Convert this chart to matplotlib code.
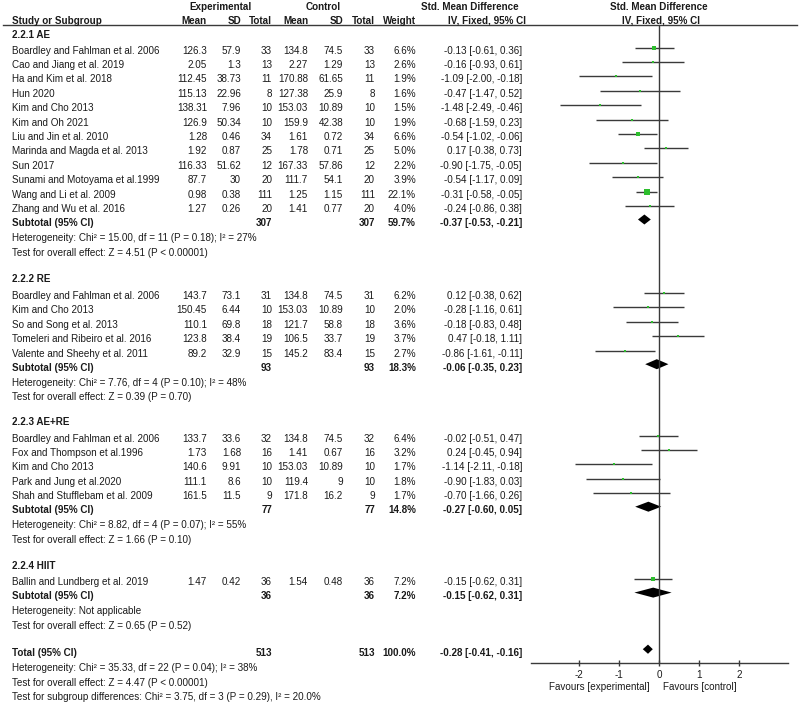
import matplotlib
matplotlib.use("Agg")
import matplotlib.pyplot as plt
from matplotlib.lines import Line2D

plt.rcParams['font.family'] = ['Liberation Sans', 'DejaVu Sans']

FS = 7.1
TXT = '#1a1a1a'
LINE = '#3a3a3a'
GREEN = '#2dbe2d'

# ---------------- data ----------------
group_names = ["2.2.1 AE", "2.2.2 RE", "2.2.3 AE+RE", "2.2.4 HIIT"]

ae_study = ["Boardley and Fahlman et al. 2006", "Cao and Jiang et al. 2019", "Ha and Kim et al. 2018",
            "Hun 2020", "Kim and Cho 2013", "Kim and Oh 2021", "Liu and Jin et al. 2010",
            "Marinda and Magda et al. 2013", "Sun 2017", "Sunami and Motoyama et al.1999",
            "Wang and Li et al. 2009", "Zhang and Wu et al. 2016"]
ae_exp_mean = ["126.3", "2.05", "112.45", "115.13", "138.31", "126.9", "1.28", "1.92", "116.33", "87.7", "0.98", "1.27"]
ae_exp_sd = ["57.9", "1.3", "38.73", "22.96", "7.96", "50.34", "0.46", "0.87", "51.62", "30", "0.38", "0.26"]
ae_exp_n = [33, 13, 11, 8, 10, 10, 34, 25, 12, 20, 111, 20]
ae_ctl_mean = ["134.8", "2.27", "170.88", "127.38", "153.03", "159.9", "1.61", "1.78", "167.33", "111.7", "1.25", "1.41"]
ae_ctl_sd = ["74.5", "1.29", "61.65", "25.9", "10.89", "42.38", "0.72", "0.71", "57.86", "54.1", "1.15", "0.77"]
ae_ctl_n = [33, 13, 11, 8, 10, 10, 34, 25, 12, 20, 111, 20]
ae_weight = [6.6, 2.6, 1.9, 1.6, 1.5, 1.9, 6.6, 5.0, 2.2, 3.9, 22.1, 4.0]
ae_smd = [-0.13, -0.16, -1.09, -0.47, -1.48, -0.68, -0.54, 0.17, -0.90, -0.54, -0.31, -0.24]
ae_lo = [-0.61, -0.93, -2.00, -1.47, -2.49, -1.59, -1.02, -0.38, -1.75, -1.17, -0.58, -0.86]
ae_hi = [0.36, 0.61, -0.18, 0.52, -0.46, 0.23, -0.06, 0.73, -0.05, 0.09, -0.05, 0.38]

re_study = ["Boardley and Fahlman et al. 2006", "Kim and Cho 2013", "So and Song et al. 2013",
            "Tomeleri and Ribeiro et al. 2016", "Valente and Sheehy et al. 2011"]
re_exp_mean = ["143.7", "150.45", "110.1", "123.8", "89.2"]
re_exp_sd = ["73.1", "6.44", "69.8", "38.4", "32.9"]
re_exp_n = [31, 10, 18, 19, 15]
re_ctl_mean = ["134.8", "153.03", "121.7", "106.5", "145.2"]
re_ctl_sd = ["74.5", "10.89", "58.8", "33.7", "83.4"]
re_ctl_n = [31, 10, 18, 19, 15]
re_weight = [6.2, 2.0, 3.6, 3.7, 2.7]
re_smd = [0.12, -0.28, -0.18, 0.47, -0.86]
re_lo = [-0.38, -1.16, -0.83, -0.18, -1.61]
re_hi = [0.62, 0.61, 0.48, 1.11, -0.11]

ar_study = ["Boardley and Fahlman et al. 2006", "Fox and Thompson et al.1996", "Kim and Cho 2013",
            "Park and Jung et al.2020", "Shah and Stufflebam et al. 2009"]
ar_exp_mean = ["133.7", "1.73", "140.6", "111.1", "161.5"]
ar_exp_sd = ["33.6", "1.68", "9.91", "8.6", "11.5"]
ar_exp_n = [32, 16, 10, 10, 9]
ar_ctl_mean = ["134.8", "1.41", "153.03", "119.4", "171.8"]
ar_ctl_sd = ["74.5", "0.67", "10.89", "9", "16.2"]
ar_ctl_n = [32, 16, 10, 10, 9]
ar_weight = [6.4, 3.2, 1.7, 1.8, 1.7]
ar_smd = [-0.02, 0.24, -1.14, -0.90, -0.70]
ar_lo = [-0.51, -0.45, -2.11, -1.83, -1.66]
ar_hi = [0.47, 0.94, -0.18, 0.03, 0.26]

hi_study = ["Ballin and Lundberg et al. 2019"]
hi_exp_mean = ["1.47"]
hi_exp_sd = ["0.42"]
hi_exp_n = [36]
hi_ctl_mean = ["1.54"]
hi_ctl_sd = ["0.48"]
hi_ctl_n = [36]
hi_weight = [7.2]
hi_smd = [-0.15]
hi_lo = [-0.62]
hi_hi = [0.31]

sub_n_exp = [307, 93, 77, 36]
sub_n_ctl = [307, 93, 77, 36]
sub_weight = [59.7, 18.3, 14.8, 7.2]
sub_smd = [-0.37, -0.06, -0.27, -0.15]
sub_lo = [-0.53, -0.35, -0.60, -0.62]
sub_hi = [-0.21, 0.23, 0.05, 0.31]
sub_het = ["Heterogeneity: Chi² = 15.00, df = 11 (P = 0.18); I² = 27%",
           "Heterogeneity: Chi² = 7.76, df = 4 (P = 0.10); I² = 48%",
           "Heterogeneity: Chi² = 8.82, df = 4 (P = 0.07); I² = 55%",
           "Heterogeneity: Not applicable"]
sub_test = ["Test for overall effect: Z = 4.51 (P < 0.00001)",
            "Test for overall effect: Z = 0.39 (P = 0.70)",
            "Test for overall effect: Z = 1.66 (P = 0.10)",
            "Test for overall effect: Z = 0.65 (P = 0.52)"]

total_n_exp = 513
total_n_ctl = 513
total_weight = 100.0
total_smd = -0.28
total_lo = -0.41
total_hi = -0.16
total_notes = ["Heterogeneity: Chi² = 35.33, df = 22 (P = 0.04); I² = 38%",
               "Test for overall effect: Z = 4.47 (P < 0.00001)",
               "Test for subgroup differences: Chi² = 3.75, df = 3 (P = 0.29), I² = 20.0%"]

x_ticks = [-2, -1, 0, 1, 2]
x_ticklabels = ["-2", "-1", "0", "1", "2"]

groups = [
    (ae_study, ae_exp_mean, ae_exp_sd, ae_exp_n, ae_ctl_mean, ae_ctl_sd, ae_ctl_n, ae_weight, ae_smd, ae_lo, ae_hi),
    (re_study, re_exp_mean, re_exp_sd, re_exp_n, re_ctl_mean, re_ctl_sd, re_ctl_n, re_weight, re_smd, re_lo, re_hi),
    (ar_study, ar_exp_mean, ar_exp_sd, ar_exp_n, ar_ctl_mean, ar_ctl_sd, ar_ctl_n, ar_weight, ar_smd, ar_lo, ar_hi),
    (hi_study, hi_exp_mean, hi_exp_sd, hi_exp_n, hi_ctl_mean, hi_ctl_sd, hi_ctl_n, hi_weight, hi_smd, hi_lo, hi_hi),
]

# ---------------- layout (pixel rows) ----------------
W, H = 800, 703
STEP = 14.4
group_header_y = [35.5, 279.0, 422.0, 566.0]
group_first_y = [50.5, 296.0, 438.5, 582.0]
total_y = 653.0
total_note_y = [668.0, 682.5, 697.0]
MARK_OFF = -3.0

# column right edges
X_STUDY = 12
X_EM, X_ES, X_EN = 207, 241, 272
X_CM, X_CS, X_CN = 308, 343, 375
X_W = 416
X_CI = 522

fig = plt.figure(figsize=(W / 100, H / 100), dpi=100)
tax = fig.add_axes([0, 0, 1, 1])
tax.set_xlim(0, W)
tax.set_ylim(H, 0)
tax.axis('off')

def t(x, y, s, ha='left', bold=False):
    tax.text(x, y, s, ha=ha, va='center', fontsize=FS, color=TXT,
             fontweight='bold' if bold else 'normal')

# headers
t(220, 7, "Experimental", 'center', True)
t(323, 7, "Control", 'center', True)
t(470, 7, "Std. Mean Difference", 'center', True)
t(659, 7, "Std. Mean Difference", 'center', True)
hy = 20.5
t(X_STUDY, hy, "Study or Subgroup", 'left', True)
t(X_EM, hy, "Mean", 'right', True)
t(X_ES, hy, "SD", 'right', True)
t(X_EN, hy, "Total", 'right', True)
t(X_CM, hy, "Mean", 'right', True)
t(X_CS, hy, "SD", 'right', True)
t(X_CN, hy, "Total", 'right', True)
t(X_W, hy, "Weight", 'right', True)
t(487, hy, "IV, Fixed, 95% CI", 'center', True)
t(661, hy, "IV, Fixed, 95% CI", 'center', True)
tax.add_line(Line2D([3, 797], [25, 25], color=LINE, lw=1.0))

# forest axes
ax_top, ax_bot = 25.0, 663.0
ax_l, ax_r = 530.7, 787.7
fax = fig.add_axes([ax_l / W, 1 - ax_bot / H, (ax_r - ax_l) / W, (ax_bot - ax_top) / H])
fax.set_xlim(-3.21, 3.21)
fax.set_ylim(ax_bot, ax_top)
fax.patch.set_alpha(0)
for sp in ['top', 'left', 'right']:
    fax.spines[sp].set_visible(False)
fax.spines['bottom'].set_color(LINE)
fax.spines['bottom'].set_linewidth(1.0)
fax.set_yticks([])
fax.set_xticks(x_ticks)
fax.set_xticklabels(x_ticklabels)
fax.tick_params(axis='x', direction='inout', length=4.5, width=1.0, color=LINE,
                labelsize=FS, labelcolor=TXT, pad=2.5)
fax.axvline(0, color=LINE, lw=1.0)

def diamond(y, est, lo, hi, h=5.0):
    fax.fill([lo, est, hi, est], [y, y - h, y, y + h], color='black', lw=0)

def ci_text(lo, est, hi):
    return f"{est:.2f} [{lo:.2f}, {hi:.2f}]"

for gi, g in enumerate(groups):
    study, em, es, en, cm, cs, cn, wt, smd, lo, hi = g
    t(X_STUDY, group_header_y[gi], group_names[gi], 'left', True)
    y = group_first_y[gi]
    for i in range(len(study)):
        t(X_STUDY, y, study[i])
        t(X_EM, y, em[i], 'right')
        t(X_ES, y, es[i], 'right')
        t(X_EN, y, str(en[i]), 'right')
        t(X_CM, y, cm[i], 'right')
        t(X_CS, y, cs[i], 'right')
        t(X_CN, y, str(cn[i]), 'right')
        t(X_W, y, f"{wt[i]:.1f}%", 'right')
        t(X_CI, y, ci_text(lo[i], smd[i], hi[i]), 'right')
        my = y + MARK_OFF
        fax.plot([lo[i], hi[i]], [my, my], color=LINE, lw=1.0, solid_capstyle='butt')
        side_px = max(1.6, 5.5 * (wt[i] / 22.1) ** 0.5)
        fax.scatter([smd[i]], [my], marker='s', s=(side_px * 0.72) ** 2, color=GREEN,
                    linewidths=0, zorder=3)
        y += STEP
    # subtotal row
    t(X_STUDY, y, "Subtotal (95% CI)", 'left', True)
    t(X_EN, y, str(sub_n_exp[gi]), 'right', True)
    t(X_CN, y, str(sub_n_ctl[gi]), 'right', True)
    t(X_W, y, f"{sub_weight[gi]:.1f}%", 'right', True)
    t(X_CI, y, ci_text(sub_lo[gi], sub_smd[gi], sub_hi[gi]), 'right', True)
    diamond(y + MARK_OFF - 0.8, sub_smd[gi], sub_lo[gi], sub_hi[gi])
    t(X_STUDY, y + 15.0, sub_het[gi])
    t(X_STUDY, y + 29.5, sub_test[gi])

# total
t(X_STUDY, total_y, "Total (95% CI)", 'left', True)
t(X_EN, total_y, str(total_n_exp), 'right', True)
t(X_CN, total_y, str(total_n_ctl), 'right', True)
t(X_W, total_y, f"{total_weight:.1f}%", 'right', True)
t(X_CI, total_y, ci_text(total_lo, total_smd, total_hi), 'right', True)
diamond(total_y + MARK_OFF - 0.8, total_smd, total_lo, total_hi, h=4.6)
for yy, s in zip(total_note_y, total_notes):
    t(X_STUDY, yy, s)

t(650, 687, "Favours [experimental]", 'right')
t(663, 687, "Favours [control]", 'left')

fig.savefig("out.png", dpi=100)
